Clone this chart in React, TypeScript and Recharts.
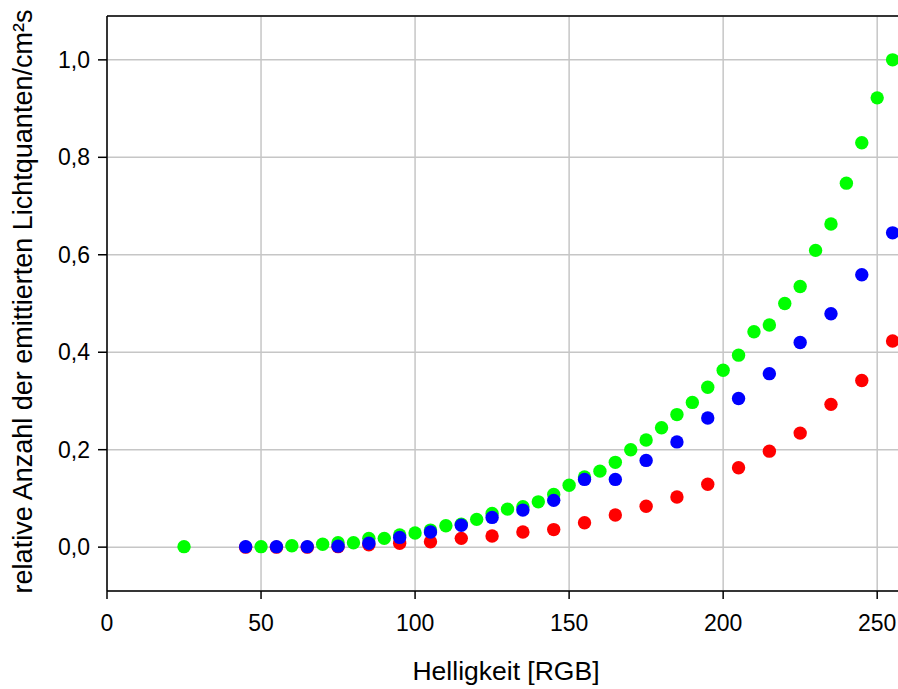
import React from 'react';
import {
  ScatterChart,
  Scatter,
  XAxis,
  YAxis,
  CartesianGrid,
  ReferenceLine
} from 'recharts';

// Helligkeit (RGB) der Messpunkte
const rbBrightness = [45, 55, 65, 75, 85, 95, 105, 115, 125, 135, 145, 155, 165, 175, 185, 195, 205, 215, 225, 235, 245, 255];
const greenBrightness = [
  25, 50, 60, 70, 75, 80, 85, 90, 95, 100, 105, 110, 115, 120, 125, 130, 135, 140, 145, 150,
  155, 160, 165, 170, 175, 180, 185, 190, 195, 200, 205, 210, 215, 220, 225, 230, 235, 240, 245, 250, 255
];

// relative Anzahl der emittierten Lichtquanten je Farbkanal
const redValues = [
  0.0, 0.0, 0.0, 0.001, 0.005, 0.008, 0.011, 0.018, 0.023, 0.031, 0.036,
  0.05, 0.066, 0.084, 0.103, 0.129, 0.163, 0.197, 0.234, 0.293, 0.342, 0.423
];
const blueValues = [
  0.001, 0.001, 0.001, 0.002, 0.008, 0.02, 0.031, 0.045, 0.061, 0.076, 0.096,
  0.139, 0.139, 0.178, 0.216, 0.265, 0.305, 0.356, 0.42, 0.479, 0.559, 0.645
];
const greenValues = [
  0.001, 0.001, 0.003, 0.006, 0.009, 0.009, 0.018, 0.018, 0.025, 0.029, 0.035, 0.044, 0.047, 0.057,
  0.069, 0.078, 0.083, 0.093, 0.108, 0.127, 0.144, 0.156, 0.174, 0.2, 0.22, 0.245, 0.272, 0.297,
  0.328, 0.363, 0.394, 0.442, 0.456, 0.5, 0.535, 0.609, 0.663, 0.747, 0.83, 0.922, 1.0
];

const xTicks = [0, 50, 100, 150, 200, 250];
const yTicks = [0, 0.2, 0.4, 0.6, 0.8, 1.0];
const X_DOMAIN: [number, number] = [0, 260];
const Y_DOMAIN: [number, number] = [-0.09, 1.09];

const FONT = '"Liberation Sans", Arial, Helvetica, sans-serif';

const toPoints = (xs: number[], ys: number[]) => xs.map((x, i) => ({ x, y: ys[i] }));

const redData = toPoints(rbBrightness, redValues);
const blueData = toPoints(rbBrightness, blueValues);
const greenData = toPoints(greenBrightness, greenValues);

const dot = (color: string) => (props: any) => (
  <circle cx={props.cx} cy={props.cy} r={6.7} fill={color} />
);

const XTitle = ({ viewBox }: any) => (
  <text
    x={viewBox.x + 399}
    y={viewBox.y + 89}
    textAnchor="middle"
    fontSize={26.5}
    fontFamily={FONT}
    fill="#000"
  >
    Helligkeit [RGB]
  </text>
);

const YTitle = ({ viewBox }: any) => {
  const cx = 32;
  const cy = viewBox.y + viewBox.height / 2 - 2;
  return (
    <text
      x={cx}
      y={cy}
      transform={`rotate(-90, ${cx}, ${cy})`}
      textAnchor="middle"
      fontSize={27}
      fontFamily={FONT}
      fill="#000"
    >
      relative Anzahl der emittierten Lichtquanten/cm²s
    </text>
  );
};

export default function App() {
  return (
    <div style={{ position: 'absolute', left: 0, top: 0, width: 898, height: 689, overflow: 'hidden', background: '#fff' }}>
      <ScatterChart width={912} height={689} margin={{ top: 16, right: 4, bottom: 0, left: 0 }}>
        <CartesianGrid stroke="#c6c6c6" strokeWidth={1.5} />
        <XAxis
          type="number"
          dataKey="x"
          domain={X_DOMAIN}
          ticks={xTicks}
          height={98}
          stroke="#000"
          strokeWidth={1.5}
          tickSize={8}
          tickMargin={16}
          tick={{ fill: '#000', fontSize: 23, fontFamily: FONT }}
          label={<XTitle />}
        />
        <YAxis
          type="number"
          dataKey="y"
          domain={Y_DOMAIN}
          ticks={yTicks}
          width={107}
          stroke="#000"
          strokeWidth={1.5}
          tickSize={9}
          tickMargin={8}
          tickFormatter={(v: number) => v.toFixed(1).replace('.', ',')}
          tick={{ fill: '#000', fontSize: 23, fontFamily: FONT }}
          label={<YTitle />}
        />
        <ReferenceLine y={Y_DOMAIN[1]} stroke="#000" strokeWidth={1.5} />
        <Scatter data={redData} fill="#ff0000" shape={dot('#ff0000')} isAnimationActive={false} />
        <Scatter data={greenData} fill="#00ff00" shape={dot('#00ff00')} isAnimationActive={false} />
        <Scatter data={blueData} fill="#0000ff" shape={dot('#0000ff')} isAnimationActive={false} />
      </ScatterChart>
    </div>
  );
}
